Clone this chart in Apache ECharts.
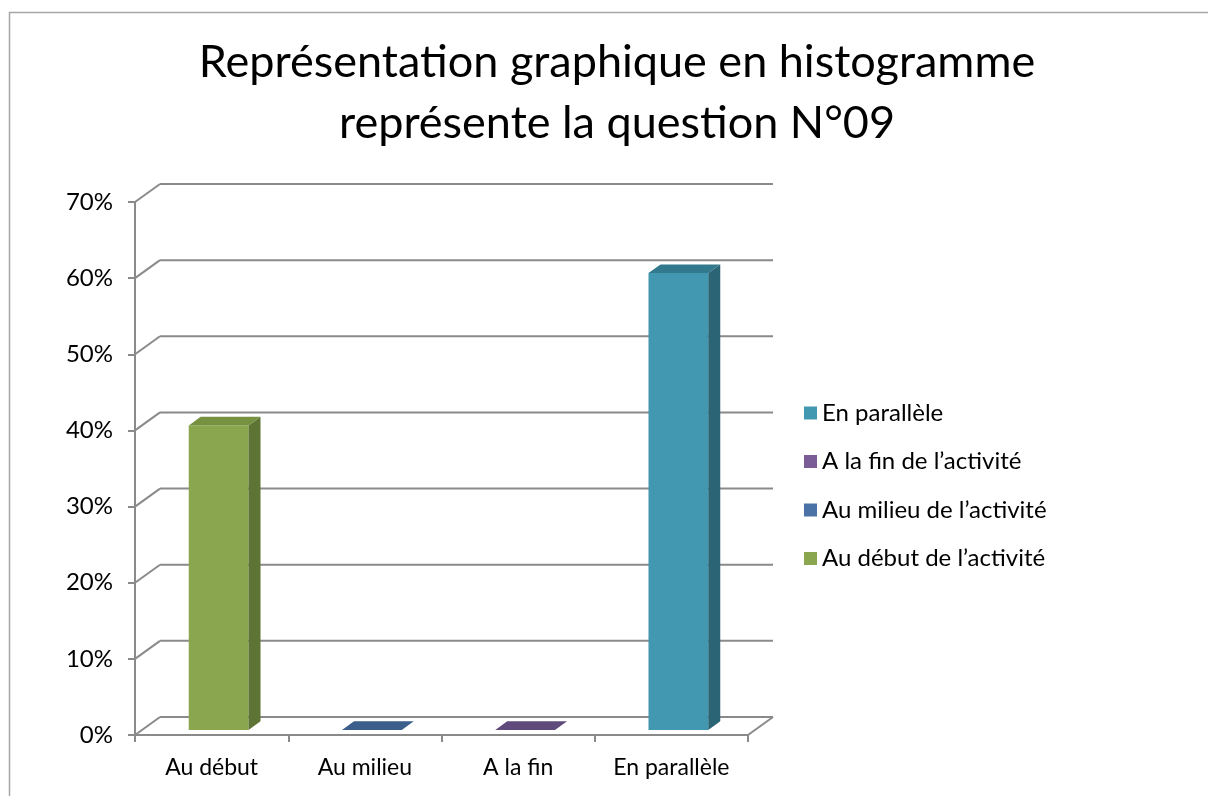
<!DOCTYPE html>
<html><head><meta charset="utf-8">
<script src="https://cdn.jsdelivr.net/npm/echarts@6/dist/echarts.min.js"></script>
<style>html,body{margin:0;padding:0;background:#fff}#c{width:1208px;height:796px}</style>
</head><body><div id="c"></div>
<script>
const titleText = 'Représentation graphique en histogramme\nreprésente la question N°09';
const categories = ['Au début', 'Au milieu', 'A la fin', 'En parallèle'];
const seriesNames = ['Au début de l\u2019activité', 'Au milieu de l\u2019activité', 'A la fin de l\u2019activité', 'En parallèle'];
const values = [40, 0, 0, 60];
const yTicks = [0, 10, 20, 30, 40, 50, 60, 70];

const palette = [
  {front: '#8aa64e', side: '#5e7434', top: '#76913f'},
  {front: '#4a72a6', side: '#2f4d73', top: '#3b5e8a'},
  {front: '#7a5c97', side: '#503c66', top: '#604a7c'},
  {front: '#4298b0', side: '#2b6474', top: '#33798d'}
];
const DX = 25, DY = 18;
const F1 = 0.28, F2 = 0.76, BW = 0.39;
const gridColor = '#8a8a8a';

const chart = echarts.init(document.getElementById('c'), null, {renderer: 'canvas'});

function frameItem(params, api) {
  const cs = params.coordSys;
  const v = api.value(1);
  const y = api.coord([0, v])[1];
  const x0 = cs.x, x1 = cs.x + cs.width;
  const children = [
    {type: 'line', shape: {x1: x0, y1: y, x2: x0 + DX, y2: y - DY}, style: {stroke: gridColor, lineWidth: 2}},
    {type: 'line', shape: {x1: x0 + DX, y1: y - DY, x2: x1 + DX, y2: y - DY}, style: {stroke: gridColor, lineWidth: 2}}
  ];
  if (v === 0) {
    children.push({type: 'line', shape: {x1: x1, y1: y, x2: x1 + DX, y2: y - DY}, style: {stroke: gridColor, lineWidth: 2}});
  }
  return {type: 'group', children: children};
}

function barItem(params, api) {
  const cat = api.value(0), val = api.value(1);
  const c0 = api.coord([cat, 0]);
  const c1 = api.coord([cat, val]);
  const band = api.size([1, 0])[0];
  const w = band * BW;
  const col = palette[cat];
  const xl = c0[0] - w / 2 + F1 * DX;
  const yb = c0[1] - F1 * DY;
  const yt = c1[1] - F1 * DY;
  const xr = xl + w;
  const ddx = (F2 - F1) * DX, ddy = (F2 - F1) * DY;
  const children = [];
  if (yb - yt > 0.5) {
    children.push({type: 'rect', shape: {x: xl, y: yt, width: w, height: yb - yt}, style: {fill: col.front}});
    children.push({type: 'polygon', shape: {points: [[xr, yt], [xr + ddx, yt - ddy], [xr + ddx, yb - ddy], [xr, yb]]}, style: {fill: col.side}});
  }
  children.push({type: 'polygon', shape: {points: [[xl, yt], [xr, yt], [xr + ddx, yt - ddy], [xl + ddx, yt - ddy]]}, style: {fill: col.top}});
  return {type: 'group', children: children};
}

const series = [{
  type: 'custom', name: '__frame', silent: true, z: 1, clip: false,
  renderItem: frameItem,
  data: yTicks.map(v => [0, v])
}];
for (let i = 0; i < categories.length; i++) {
  series.push({
    type: 'custom', name: seriesNames[i], z: 3, clip: false,
    itemStyle: {color: palette[i].front},
    renderItem: barItem,
    data: [[i, values[i]]]
  });
}

chart.setOption({
  animation: false,
  backgroundColor: '#ffffff',
  graphic: [{type: 'rect', shape: {x: 9.5, y: 12.5, width: 1300, height: 900}, style: {fill: 'none', stroke: '#a6a6a6', lineWidth: 1.5}, z: 0}],
  title: {
    text: titleText, left: 612, top: 27, textAlign: 'center',
    textStyle: {fontFamily: 'Lato', fontSize: 45, fontWeight: 'normal', color: '#000', lineHeight: 61}
  },
  legend: {
    orient: 'vertical', left: 799, top: 396,
    data: seriesNames.slice().reverse(),
    icon: 'rect', itemWidth: 13, itemHeight: 13, itemGap: 24.5,
    textStyle: {fontFamily: 'Lato', fontSize: 24, color: '#000', lineHeight: 24}
  },
  grid: {left: 135, top: 202, right: 460, bottom: 61, containLabel: false},
  xAxis: {
    type: 'category', data: categories,
    axisLine: {lineStyle: {color: gridColor, width: 2}},
    axisTick: {show: true, interval: 0, length: 7, lineStyle: {color: gridColor, width: 2}},
    axisLabel: {interval: 0, hideOverlap: false, fontFamily: 'Lato', fontSize: 23, color: '#000', margin: 21},
    splitLine: {show: false}
  },
  yAxis: {
    type: 'value', min: 0, max: 70, interval: 10,
    axisLine: {show: true, lineStyle: {color: gridColor, width: 2}},
    axisTick: {show: true, length: 7, lineStyle: {color: gridColor, width: 2}},
    axisLabel: {fontFamily: 'Lato', fontSize: 24, color: '#000', margin: 22, formatter: '{value}%'},
    splitLine: {show: false}
  },
  series: series
});
</script></body></html>
